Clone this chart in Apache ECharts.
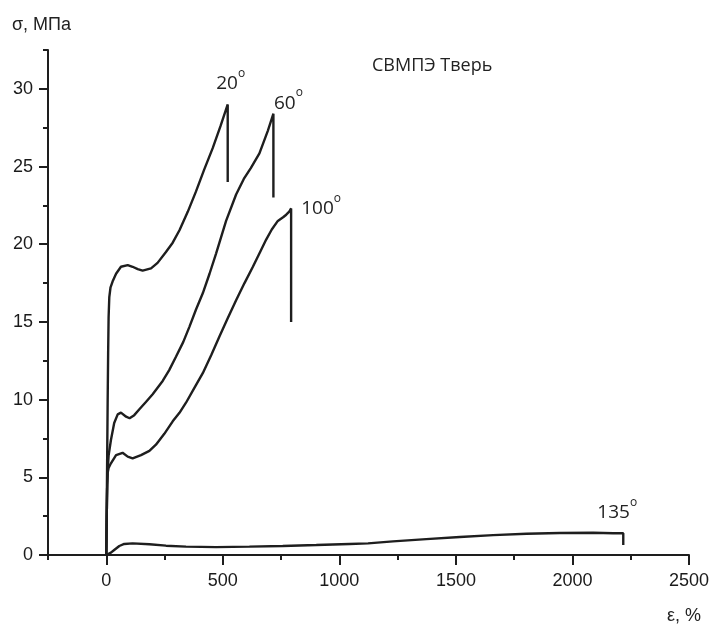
<!DOCTYPE html>
<html>
<head>
<meta charset="utf-8">
<script src="https://cdn.jsdelivr.net/npm/echarts@6/dist/echarts.min.js"></script>
<style>
  html, body { margin: 0; padding: 0; background: #fff; }
  #chart { width: 712px; height: 626px; }
</style>
</head>
<body>
<div id="chart"></div>
<script>
// strain (%) / stress (MPa), one array per angle
var curve20 = [[0,0],[2,3],[4,6.5],[6,10],[8,13],[10,15.3],[13,16.6],[18,17.2],[27,17.6],[42,18.1],
  [63,18.55],[92,18.66],[113,18.55],[135,18.4],[156,18.3],[192,18.45],[220,18.8],[256,19.5],
  [285,20.1],[314,20.9],[350,22.1],[385,23.4],[420,24.8],[457,26.2],[490,27.6],[521,29.0],[521,24.0]];
var curve60 = [[0,0],[2,2.5],[4,4.5],[6,5.4],[10,6.4],[20,7.4],[34,8.5],[49,9.05],[63,9.16],[85,8.9],
  [100,8.8],[120,9.0],[142,9.38],[170,9.85],[199,10.35],[242,11.2],[270,11.9],[299,12.76],[330,13.7],
  [357,14.7],[385,15.8],[414,16.84],[443,18.1],[471,19.4],[514,21.5],[557,23.2],[590,24.2],[620,24.9],
  [657,25.85],[693,27.3],[717,28.4],[717,23.0]];
var curve100 = [[0,0],[2,2.5],[4,4.5],[6,5.3],[10,5.6],[20,5.9],[42,6.43],[70,6.58],[92,6.33],[113,6.22],
  [149,6.43],[185,6.7],[213,7.1],[249,7.8],[285,8.6],[314,9.15],[342,9.8],[378,10.75],[414,11.7],
  [450,12.85],[485,14.05],[520,15.2],[557,16.4],[593,17.5],[629,18.55],[660,19.5],[686,20.3],
  [710,20.95],[736,21.5],[760,21.75],[772,21.9],[785,22.1],[793,22.3],[793,15.0]];
var curve135 = [[0,0],[6,0],[20,0.15],[34,0.32],[56,0.58],[77,0.71],[113,0.75],[185,0.69],[256,0.6],
  [342,0.54],[471,0.51],[614,0.54],[757,0.58],[901,0.64],[1044,0.71],[1123,0.75],[1230,0.88],
  [1373,1.02],[1517,1.16],[1660,1.28],[1803,1.37],[1946,1.42],[2089,1.43],[2175,1.4],[2218,1.4],[2218,0.64]];

var curveNames = ['20', '60', '100', '135'];
var xMajor = [0, 500, 1000, 1500, 2000, 2500];
var yMajor = [0, 5, 10, 15, 20, 25, 30];

var ink = '#1e1e1e';
var myChart = echarts.init(document.getElementById('chart'));

function angleSeries(name, data, offset) {
    // label sits next to the top of the break
    var peak = data[data.length - 2];
    return {
        name: name,
        type: 'line',
        data: data,
        showSymbol: false,
        lineStyle: { color: ink, width: 2.4 },
        markPoint: {
            symbol: 'circle',
            symbolSize: 1,
            itemStyle: { color: 'rgba(0,0,0,0)' },
            data: [{ coord: peak }],
            label: {
                show: true,
                position: 'inside',
                offset: offset,
                formatter: '{n|' + name + '}{d|o}',
                rich: {
                    n: { fontSize: 19, fontFamily: 'Open Sans', color: '#222', lineHeight: 26, verticalAlign: 'bottom' },
                    d: { fontSize: 12, fontFamily: 'Open Sans', color: '#222', lineHeight: 12, verticalAlign: 'top' }
                }
            }
        }
    };
}

var tickFont = { fontSize: 18, fontFamily: 'Liberation Sans', color: '#1a1a1a' };
var plain = function (v) { return String(v); };

myChart.setOption({
    animation: false,
    grid: { left: 48, right: 23, top: 50, bottom: 71, outerBoundsMode: 'none' },
    xAxis: [
        {
            type: 'value', min: -250, max: 2500, interval: 250, position: 'bottom',
            axisLine: { onZero: false, lineStyle: { color: ink, width: 2 } },
            axisTick: { length: 5, lineStyle: { color: ink, width: 2 } },
            axisLabel: { show: false },
            splitLine: { show: false }
        },
        {
            type: 'value', min: -250, max: 2500, interval: 250, position: 'bottom',
            axisLine: { show: false, onZero: false },
            axisTick: { customValues: xMajor, length: 10, lineStyle: { color: ink, width: 2 } },
            axisLabel: Object.assign({ customValues: xMajor, margin: 17, formatter: plain }, tickFont),
            splitLine: { show: false }
        }
    ],
    yAxis: [
        {
            type: 'value', min: 0, max: 32.5, interval: 2.5, position: 'left',
            axisLine: { show: true, onZero: false, lineStyle: { color: ink, width: 2 } },
            axisTick: { show: true, length: 5, lineStyle: { color: ink, width: 2 } },
            axisLabel: { show: false },
            splitLine: { show: false }
        },
        {
            type: 'value', min: 0, max: 32.5, interval: 2.5, position: 'left',
            axisLine: { show: false, onZero: false },
            axisTick: { show: true, customValues: yMajor, length: 9, lineStyle: { color: ink, width: 2 } },
            axisLabel: Object.assign({ customValues: yMajor, margin: 15, formatter: plain }, tickFont),
            splitLine: { show: false }
        }
    ],
    graphic: [
        { type: 'text', left: 12, top: 16, style: { text: 'σ, МПа', fontSize: 18, fontFamily: 'Liberation Sans', fill: '#222' } },
        { type: 'text', left: 667, top: 607, style: { text: 'ε, %', fontSize: 18, fontFamily: 'Liberation Sans', fill: '#222' } },
        { type: 'text', left: 372, top: 57, style: { text: 'СВМПЭ Тверь', fontSize: 18, fontFamily: 'Open Sans', fill: '#222' } }
    ],
    series: [
        angleSeries(curveNames[0], curve20, [3, -24]),
        angleSeries(curveNames[1], curve60, [15, -14]),
        angleSeries(curveNames[2], curve100, [30, -3]),
        angleSeries(curveNames[3], curve135, [-6, -24])
    ]
});
</script>
</body>
</html>
